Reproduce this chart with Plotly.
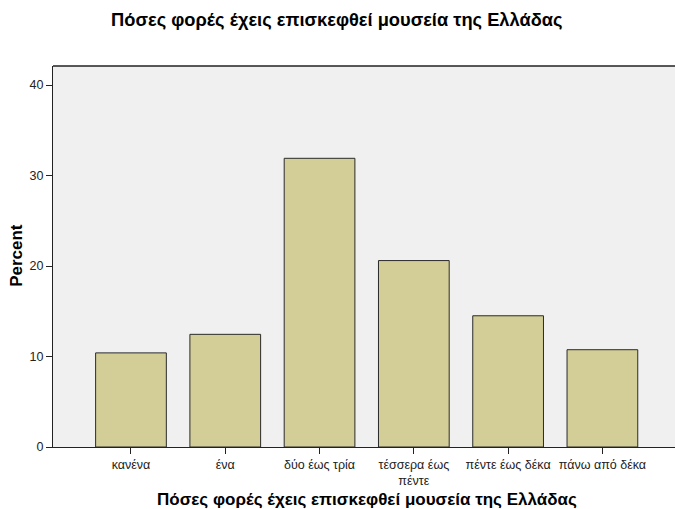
import plotly.graph_objects as go

categories = ["κανένα", "ένα", "δύο έως τρία", "τέσσερα έως<br>πέντε", "πέντε έως δέκα", "πάνω από δέκα"]
percent = [10.4, 12.45, 31.9, 20.6, 14.5, 10.75]
y_ticks = [0, 10, 20, 30, 40]

title_text = "Πόσες φορές έχεις επισκεφθεί μουσεία της Ελλάδας"

fig = go.Figure(go.Bar(
    x=categories,
    y=percent,
    width=0.75,
    marker=dict(color="#D3CE97", line=dict(color="#2a2a2a", width=1)),
))

fig.update_layout(
    width=675, height=509,
    margin=dict(l=53, r=0, t=66, b=62),
    paper_bgcolor="white",
    plot_bgcolor="#F0F0F0",
    font=dict(family="Liberation Sans, Arial, sans-serif", size=12, color="#222"),
    showlegend=False,
    title=dict(text="<b>" + title_text + "</b>", xref="container", x=0.499, xanchor="center",
               yref="container", y=1 - 20 / 509, yanchor="middle",
               font=dict(size=18.3, color="black")),
)

fig.update_xaxes(
    type="category",
    range=[-0.827, 5.77],
    automargin=False,
    showline=True, linecolor="#222", linewidth=1, mirror=False,
    ticks="outside", ticklen=6, tickcolor="#222",
    showgrid=False, zeroline=False,
    tickfont=dict(size=12.5, color="#222"),
)
fig.update_yaxes(
    range=[0, 42.1],
    automargin=False,
    tickvals=y_ticks,
    showline=True, linecolor="#222", linewidth=1,
    ticks="outside", ticklen=6, tickcolor="#222",
    showgrid=False, zeroline=False,
    tickfont=dict(size=12.5, color="#222"),
)

# top border of the frame
fig.add_shape(type="line", xref="paper", yref="paper", x0=0, x1=1, y0=1, y1=1,
              line=dict(color="#222", width=1.5))

# y axis title
fig.add_annotation(text="<b>Percent</b>", xref="paper", yref="paper",
                   x=(16.5 - 53) / 622, y=(447 - 255) / 381.7, xanchor="center", yanchor="middle",
                   textangle=-90, showarrow=False, font=dict(size=17, color="black"))

# x axis title
fig.add_annotation(text="<b>" + title_text + "</b>", xref="paper", yref="paper",
                   x=(367 - 53) / 622, y=(447 - 500) / 381.7, xanchor="center", yanchor="middle",
                   showarrow=False, font=dict(size=17, color="black"))

fig.write_html("out.html", config={"displayModeBar": False},
               post_script="document.body.style.margin='0';")
